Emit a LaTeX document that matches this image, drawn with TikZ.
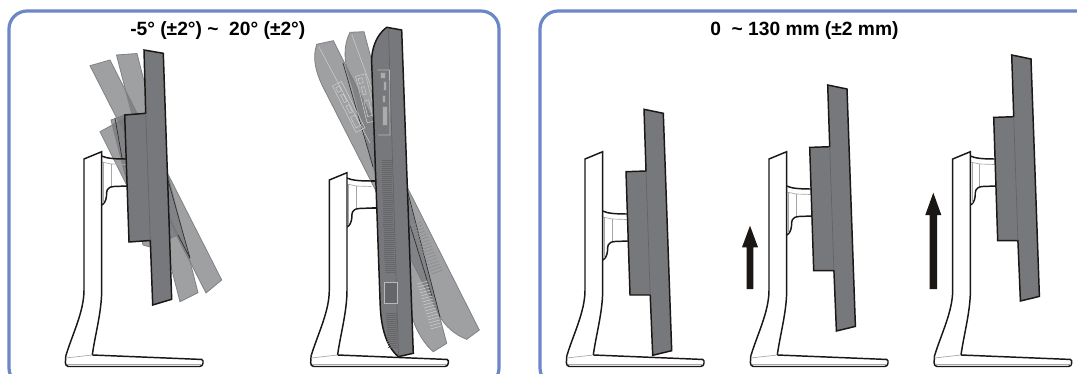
\documentclass[tikz,border=0pt]{standalone}
\usepackage{fontspec}
\setmainfont{Liberation Sans}
\definecolor{frameblue}{HTML}{6B87C8}
\definecolor{mon}{HTML}{77787B}
\definecolor{ghostedge}{HTML}{808184}
\definecolor{ink}{HTML}{1A1714}
\definecolor{seam}{HTML}{626366}
\tikzset{
 x=0.75pt,y=-0.75pt,
 frameline/.style={draw=frameblue,line width=2.4pt,rounded corners=13.5pt},
 heavy/.style={draw=ink,line width=1.1pt,line join=miter},
 thin gray/.style={draw=gray!70,line width=0.5pt},
 ghost/.style={fill=mon,fill opacity=0.7,draw=ghostedge,line width=0.6pt},
 ghostin/.style={draw=gray!35!black,line width=0.5pt},
 ghostlight/.style={draw=gray!35,line width=0.35pt},
 monfill/.style={fill=mon,draw=ink,line width=1.1pt},
 seamline/.style={draw=seam,line width=0.5pt},
 hatchline/.style={draw=black!60,line width=0.55pt},
 portline/.style={draw=black!50,line width=0.45pt,fill=gray!65},
 lbl/.style={font=\bfseries\fontsize{14.4}{16}\selectfont,inner sep=0pt},
 arrowbody/.style={fill=ink,draw=none}
}
% #1 x-shift, #2 column top shift (y), #3 neck y-shift
\newcommand{\standdraw}[3]{%
 \begin{scope}[shift={(#1,0)}]
 \draw[heavy] (101.7,{156+#3}) .. controls (106,{158+#3}) and (112,{159+#3}) .. (126,{159+#3});
 \draw[heavy] (127,{186+#3}) -- (114,{186.5+#3}) .. controls (106,{187+#3}) and (106.5,{192+#3}) .. (106.5,{196+#3}) .. controls (106,{201+#3}) and (104,{204+#3}) .. (101.7,{205+#3});
 \draw[thin gray] (101.7,{162+#3}) -- (111,{164+#3}) -- (126,{164.5+#3});
 \draw[thin gray] (111,{164+#3}) -- (111,{186+#3});
 \draw[thin gray] (103.5,{162+#3}) -- (103.5,{203+#3});
 \draw[heavy,fill=white] (92.3,355) .. controls (95,335) and (101.7,312) .. (101.7,290) -- (101.7,{151.7+#2}) -- (84,{159+#2}) -- (84,290) .. controls (84,312) and (72,335) .. (65.8,356);
 \draw[heavy,fill=white,rounded corners=1pt] (65.8,356) -- (65.3,364) -- (67,366.5) -- (201,366.5) -- (203,364.5) -- (203,359.5) -- (92.3,355);
 \draw[thin gray] (65.8,358) -- (92.3,355);
 \draw[draw=gray!70,line width=0.9pt] (67,364.7) -- (202,364.7);
 \end{scope}}
% tall upright monitor of the right panel; #1,#2 = its top-left corner
\newcommand{\monitorup}[2]{%
 \begin{scope}[shift={(#1,#2)}]
 \draw[monfill] (0,0) -- (19.3,4) -- (27.7,241.4) -- (8.7,246) -- (6.2,185.7) -- (-14,185.7) -- (-18,62.4) -- (2,61.7) -- cycle;
 \draw[seamline] (2,61.7) -- (6.2,185.7);
 \end{scope}}
\newcommand{\arrowup}[5]{% x centre, tip y, head base y, head half-width, shaft half-width
 \fill[arrowbody] (#1,#2) -- ({#1+#4},#3) -- ({#1+#5},#3) -- ({#1+#5},289) -- ({#1-#5},289) -- ({#1-#5},#3) -- ({#1-#4},#3) -- cycle;}
\begin{document}
\begin{tikzpicture}
\useasboundingbox (0,0) rectangle (1077,374);
\fill[white] (0,0) rectangle (1077,374);
% frames
\begin{scope}
\clip (0,0) rectangle (1077,374);
\draw[frameline] (60,386) -- (9,386) -- (9,11) -- (499,11) -- (499,386) -- (450,386);
\draw[frameline] (590,386) -- (540,386) -- (540,11) -- (1110,11) -- (1110,386);
\end{scope}
% titles
\node[lbl,anchor=west] (t1) at (130,31) {-5° (±2°) \textasciitilde\ \ 20° (±2°)};
\node[lbl,anchor=west] (t2) at (710,31) {0 \ \textasciitilde\ 130 mm (±2 mm)};
% ---- panel 1
\draw[ghost] (100,131.7) -- (125,118) -- (160,200) -- (150,232) -- cycle;
\draw[ghost] (111,120) -- (125,115) -- (178,235) -- (150,247) -- (143,245) -- cycle;
\draw[ghost] (90,65.7) -- (110,60) -- (221.7,280) -- (206,293) -- cycle;
\draw[ghost] (116.5,55) -- (137,53.5) -- (198,292.7) -- (180,301.7) -- cycle;
\draw[ghostin] (115,118) -- (122,158);
\draw[ghostin] (168,180) -- (190,258);
\draw[ghostin] (178,235) -- (190,258);
\standdraw{0}{0}{0}
\begin{scope}
\draw[monfill] (144,50) -- (163.3,53.3) -- (171.7,299.3) -- (152.7,305) -- (150.3,240.5) -- (129,242) -- (124.7,115) -- (145.7,113.3) -- cycle;
\draw[seamline] (145.7,113.3) -- (150.3,240.5);
\end{scope}
% ---- panel 2
\draw[ghost] (316.7,44.3) -- (333.3,40.7) -- (479.3,330) -- (466.7,339.3) .. controls (455,335) and (445,326) .. (440,316.7) -- (322,85) .. controls (316,72) and (312,58) .. (316.7,44.3) -- cycle;
\draw[ghost] (350,32.3) -- (364,31.7) -- (446.7,343.3) -- (433.3,351.7) .. controls (425,345) and (417,332) .. (413,320) -- (352,85) .. controls (346,70) and (341,50) .. (350,32.3) -- cycle;
\draw[ghostin] (343,63) -- (373,167);
\draw[ghostin] (408,193) -- (440,317);
\draw[ghostin] (410,225) -- (432,296);
\draw[ghostlight] (319,47) -- (370,143);
\draw[ghostlight] (352,35) -- (374,95);
\begin{scope}[shift={(337,95)},rotate=27]
\draw[ghostlight] (0,-10) rectangle (10,42);
\draw[ghostlight] (2,-7) rectangle (6,-2);
\draw[ghostlight] (3,2) rectangle (6,10);
\draw[ghostlight] (3,14) rectangle (6,22);
\draw[ghostlight] (2,26) rectangle (7,38);
\end{scope}
\begin{scope}[shift={(358,86)},rotate=14]
\draw[ghostlight] (0,-10) rectangle (10,38);
\draw[ghostlight] (2,-7) rectangle (6,-2);
\draw[ghostlight] (3,2) rectangle (6,10);
\draw[ghostlight] (2,16) rectangle (7,32);
\end{scope}
\foreach \yy in {226,229,...,276} \draw[black!45,line width=0.5pt] ({410+(\yy-226)*0.45},\yy) -- ({421+(\yy-226)*0.45},{\yy-4});
\foreach \yy in {284,287,...,330} \draw[ghostlight] ({417+(\yy-284)*0.3},\yy) -- ({428+(\yy-284)*0.3},{\yy-3});
\standdraw{245.3}{21}{22}
\draw[heavy] (371,181) -- (378,181);
\draw[heavy] (372,208) -- (378,208);
\begin{scope}
\draw[monfill] (386.7,27.3) -- (401.7,30) -- (413.3,353.3) -- (398.3,356.7) .. controls (385,345) and (380.5,325) .. (380,300) -- (371.7,63) .. controls (371,50) and (376,35) .. (386.7,27.3) -- cycle;
\draw[seamline] (388.5,30) -- (398.5,355);
\draw[draw=gray!55,line width=0.5pt] (377.3,70) -- (389.5,70) -- (390,135) -- (378,135);
\draw[portline] (380.7,72.7) rectangle (385,78.3);
\draw[portline] (383.3,81.7) rectangle (386.7,90.7);
\draw[portline] (382.3,95) rectangle (385.7,102.7);
\draw[portline] (382.7,106.7) rectangle (387.7,125);
\foreach \yy in {160,162,...,272} \draw[hatchline] ({381.5+(\yy-160)*0.03},\yy) -- ({391.5+(\yy-160)*0.03},\yy);
\draw[draw=gray!55,line width=0.5pt,fill=mon!85!black] (384.5,282) rectangle (397,303);
\draw[draw=black!60,line width=0.5pt] (388,287) rectangle (394.5,299);
\foreach \yy in {313,315,...,347} \draw[hatchline] ({386+(\yy-313)*0.05},\yy) -- ({396.5+(\yy-313)*0.02},\yy);
\end{scope}
% ---- panel 3
\standdraw{501}{0}{55}
\monitorup{644}{109.3}
\arrowup{750}{225.7}{247.3}{8}{3.4}
\standdraw{685}{0}{30}
\monitorup{827.7}{85}
\arrowup{933.3}{192.7}{215}{8}{3.7}
\standdraw{868.7}{0}{0}
\monitorup{1011.7}{55}
\end{tikzpicture}
\end{document}
